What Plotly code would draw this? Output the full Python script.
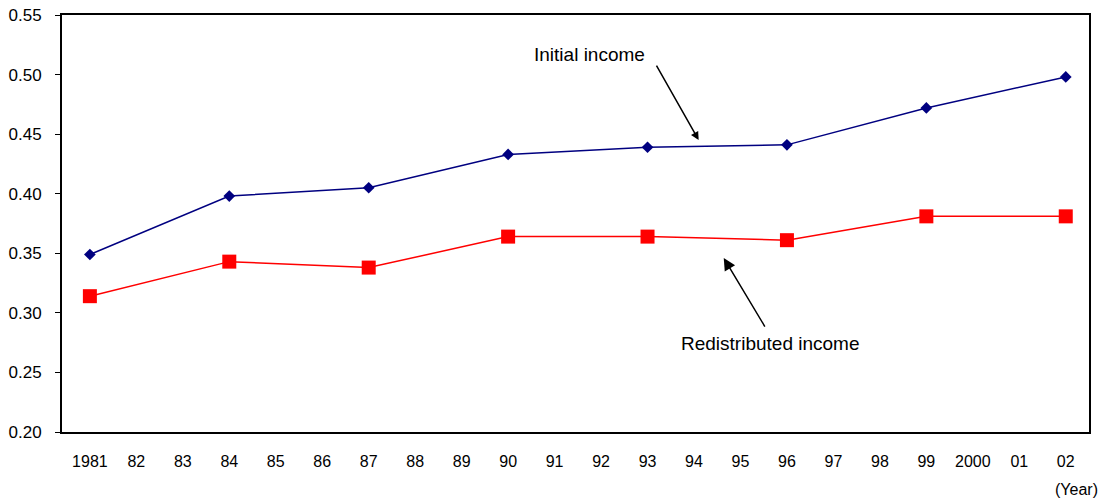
import plotly.graph_objects as go

years = [1981, 1984, 1987, 1990, 1993, 1996, 1999, 2002]
initial_income = [0.349, 0.398, 0.405, 0.433, 0.439, 0.441, 0.472, 0.498]
redistributed_income = [0.314, 0.343, 0.338, 0.364, 0.364, 0.361, 0.381, 0.381]
tick_years = list(range(1981, 2003))
tick_labels = ["1981", "82", "83", "84", "85", "86", "87", "88", "89", "90", "91",
               "92", "93", "94", "95", "96", "97", "98", "99", "2000", "01", "02"]
y_ticks = [0.20, 0.25, 0.30, 0.35, 0.40, 0.45, 0.50, 0.55]

FONT = "Liberation Sans, Arial, sans-serif"

fig = go.Figure()
fig.add_trace(go.Scatter(
    x=years, y=initial_income, mode="lines+markers", name="Initial income",
    line=dict(color="#000080", width=1.5),
    marker=dict(symbol="diamond", size=9, color="#000080"),
))
fig.add_trace(go.Scatter(
    x=years, y=redistributed_income, mode="lines+markers", name="Redistributed income",
    line=dict(color="#ff0000", width=1.5),
    marker=dict(symbol="square", size=14, color="#ff0000"),
))

fig.update_layout(
    width=1106, height=503,
    margin=dict(l=62, r=17, t=15, b=71, autoexpand=False),
    paper_bgcolor="white", plot_bgcolor="white",
    showlegend=False,
    font=dict(family=FONT, size=16, color="black"),
    xaxis=dict(
        range=[1980.4, 2002.5],
        tickmode="array", tickvals=tick_years, ticktext=tick_labels,
        ticks="", showgrid=False, zeroline=False,
        showline=True, linecolor="black", linewidth=2, mirror=True,
        ticklabelstandoff=14, automargin=False,
        tickfont=dict(family=FONT, size=16),
    ),
    yaxis=dict(
        range=[0.20, 0.55],
        tickmode="array", tickvals=y_ticks,
        ticktext=[f"{v:.2f}" for v in y_ticks],
        ticks="outside", ticklen=5, tickwidth=1, tickcolor="black",
        showgrid=False, zeroline=False,
        showline=True, linecolor="black", linewidth=2, mirror=True,
        ticklabelstandoff=10, automargin=False,
        tickfont=dict(family=FONT, size=17),
    ),
)

fig.add_annotation(x=1991.76, y=0.517, text="Initial income", showarrow=False,
                   font=dict(family=FONT, size=19))
fig.add_annotation(x=1994.1, y=0.445, ax=-43, ay=-76, text="", showarrow=True,
                   arrowhead=2, arrowsize=1.1, arrowwidth=1.5, arrowcolor="black")
fig.add_annotation(x=1995.63, y=0.2747, text="Redistributed income", showarrow=False,
                   font=dict(family=FONT, size=19))
fig.add_annotation(x=1994.64, y=0.346, ax=42, ay=70, text="", showarrow=True,
                   arrowhead=2, arrowsize=1.6, arrowwidth=1.5, arrowcolor="black")
fig.add_annotation(xref="paper", yref="paper", x=1.0107, y=-0.139,
                   xanchor="right", yanchor="middle", text="(Year)", showarrow=False,
                   font=dict(family=FONT, size=16))

fig.write_html("out.html",
               config={"displayModeBar": False},
               post_script="document.body.style.margin='0';document.body.style.overflow='hidden';")
